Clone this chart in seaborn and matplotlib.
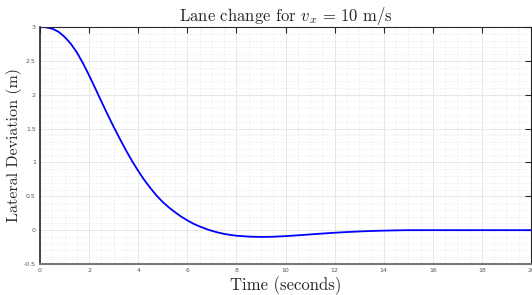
import numpy as np
import pandas as pd
import seaborn as sns
import matplotlib.pyplot as plt
from matplotlib.ticker import MultipleLocator

# lateral deviation
time_s = [0, 0.25, 0.5, 0.75, 1.0, 1.25, 1.5, 1.75, 2.0, 2.25, 2.5, 2.75, 3.0,
          3.25, 3.5, 3.75, 4.0, 4.25, 4.5, 4.75, 5.0, 5.25, 5.5, 5.75, 6.0, 6.25,
          6.5, 6.75, 7.0, 7.25, 7.5, 7.75, 8.0, 8.5, 9.0, 9.5, 10, 10.5, 11, 11.5,
          12, 12.5, 13, 13.5, 14, 14.5, 15, 16, 17, 18, 19, 20]
deviation_m = [3.0, 2.995, 2.975, 2.93, 2.855, 2.755, 2.625, 2.465, 2.285, 2.095,
               1.90, 1.71, 1.525, 1.35, 1.18, 1.02, 0.875, 0.74, 0.62, 0.51, 0.415,
               0.335, 0.265, 0.20, 0.145, 0.095, 0.055, 0.02, -0.01, -0.035, -0.055,
               -0.07, -0.082, -0.095, -0.1, -0.097, -0.088, -0.076, -0.063, -0.05,
               -0.038, -0.028, -0.019, -0.012, -0.007, -0.003, 0.0, 0.0, 0.0, 0.0,
               0.0, 0.0]
x_ticks = [0, 2, 4, 6, 8, 10, 12, 14, 16, 18, 20]
y_ticks = [-0.5, 0, 0.5, 1, 1.5, 2, 2.5, 3]

sns.set_style('white')
plt.rcParams['mathtext.fontset'] = 'cm'
plt.rcParams['axes.unicode_minus'] = False

df = pd.DataFrame({'t': time_s, 'y': deviation_m})

fig = plt.figure(figsize=(5.32, 2.95), dpi=100)
ax = fig.add_axes([0.0752, 0.105, 0.923, 0.8035])

ax.xaxis.set_minor_locator(MultipleLocator(0.5))
ax.yaxis.set_minor_locator(MultipleLocator(0.1))
ax.grid(True, which='major', color='#e3e3e3', linewidth=0.6, linestyle='-')
ax.grid(True, which='minor', color='#ececec', linewidth=0.5, linestyle=(0, (3, 2)))
ax.set_axisbelow(True)

sns.lineplot(data=df, x='t', y='y', color='#0000ff', linewidth=1.3, ax=ax)

ax.set_xlim(0, 20)
ax.set_ylim(-0.5, 3)
ax.set_xticks(x_ticks)
ax.set_yticks(y_ticks)
ax.set_xticklabels([str(v) for v in x_ticks])
ax.set_yticklabels(['-0.5', '0', '0.5', '1', '1.5', '2', '2.5', '3'])

for s in ax.spines.values():
    s.set_visible(True)
    s.set_color('#262626')
    s.set_linewidth(0.8)
ax.spines['bottom'].set_color('#777777')
ax.spines['bottom'].set_linewidth(1.5)
ax.spines['left'].set_linewidth(1.2)

ax.tick_params(which='major', direction='in', length=4, width=0.8, color='#262626',
               top=True, right=True, labelsize=4.5, labelcolor='#555555', pad=3)
ax.tick_params(which='minor', length=0)

ax.set_title(r'Lane change for $v_x\, =\, 10$ m/s', fontfamily='cmr10', fontsize=12, pad=4)
ax.set_xlabel('Time (seconds)', fontfamily='cmr10', fontsize=12, labelpad=2)
ax.set_ylabel('Lateral Deviation (m)', fontfamily='cmr10', fontsize=11.5, labelpad=1)

fig.savefig('out.png', dpi=100)
